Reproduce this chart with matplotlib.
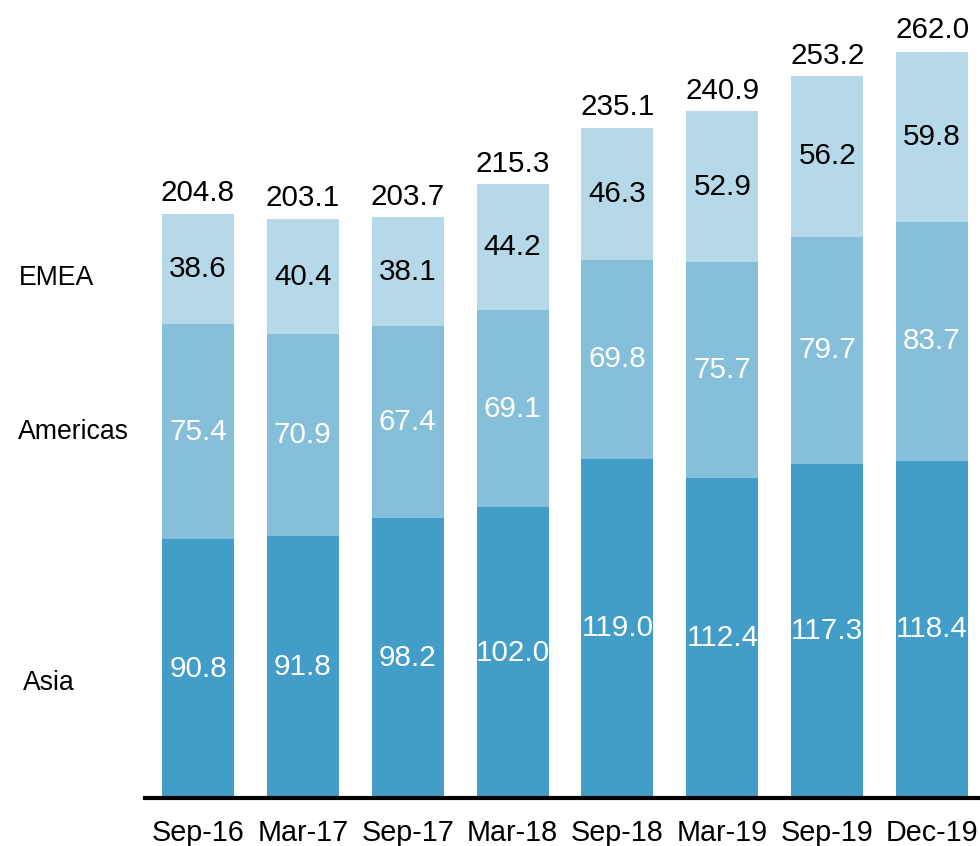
import matplotlib
matplotlib.use("Agg")
import matplotlib.pyplot as plt
import matplotlib.transforms as mtransforms
import numpy as np

periods = ["Sep-16", "Mar-17", "Sep-17", "Mar-18", "Sep-18", "Mar-19", "Sep-19", "Dec-19"]
asia = [90.8, 91.8, 98.2, 102.0, 119.0, 112.4, 117.3, 118.4]
americas = [75.4, 70.9, 67.4, 69.1, 69.8, 75.7, 79.7, 83.7]
emea = [38.6, 40.4, 38.1, 44.2, 46.3, 52.9, 56.2, 59.8]
totals = [204.8, 203.1, 203.7, 215.3, 235.1, 240.9, 253.2, 262.0]

plt.rcParams['font.family'] = ['Liberation Sans', 'DejaVu Sans']

fig = plt.figure(figsize=(9.8, 8.46), dpi=100)
ax = fig.add_axes([145 / 980, 1 - 798 / 846, 835 / 980, 798 / 846])

x = np.arange(len(periods))
width = 0.687
c_asia, c_amer, c_emea = '#429dc9', '#86bfda', '#b5d9e8'

ax.bar(x, asia, width, color=c_asia, linewidth=0)
ax.bar(x, americas, width, bottom=asia, color=c_amer, linewidth=0)
bottom2 = np.array(asia) + np.array(americas)
ax.bar(x, emea, width, bottom=bottom2, color=c_emea, linewidth=0)

fs = 21.3
for i in range(len(periods)):
    ax.text(x[i], asia[i] / 2, f'{asia[i]:.1f}', ha='center', va='center',
            color='white', fontsize=fs)
    ax.text(x[i], asia[i] + americas[i] / 2, f'{americas[i]:.1f}', ha='center',
            va='center', color='white', fontsize=fs)
    ax.text(x[i], bottom2[i] + emea[i] / 2, f'{emea[i]:.1f}', ha='center',
            va='center', color='black', fontsize=fs)
    ax.text(x[i], totals[i] + 4.5, f'{totals[i]:.1f}', ha='center', va='baseline',
            color='black', fontsize=fs)

# row labels at the left
trans = mtransforms.blended_transform_factory(fig.transFigure, ax.transData)
ax.text(19 / 980, 182.3, 'EMEA', transform=trans, ha='left', va='center', fontsize=19.2)
ax.text(18 / 980, 128.3, 'Americas', transform=trans, ha='left', va='center', fontsize=19.2)
ax.text(23 / 980, 40.3, 'Asia', transform=trans, ha='left', va='center', fontsize=19.2)

ax.set_xlim(-0.505, 7.457)
ax.set_ylim(0, 280)
ax.set_xticks(x)
ax.set_xticklabels(periods, fontsize=20.7)
ax.tick_params(axis='x', length=0, pad=15)
ax.set_yticks([])
for side in ['top', 'right', 'left']:
    ax.spines[side].set_visible(False)
ax.spines['bottom'].set_linewidth(3)

fig.savefig('out.png', dpi=100)
